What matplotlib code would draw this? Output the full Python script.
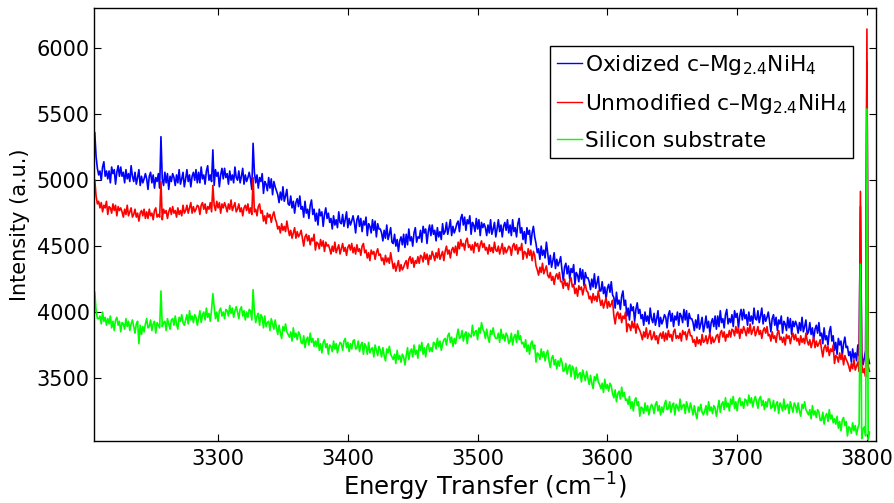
import numpy as np
import matplotlib
matplotlib.use("Agg")
import matplotlib.pyplot as plt

# Raman shift axis: 1 cm^-1 steps starting at 3205 cm^-1
x_start = 3205
x_step = 1

oxidized = [
    5360, 5180, 5090, 5040, 5070, 5000, 5100, 5140, 5030, 5070,
    5010, 5070, 4980, 5100, 5050, 5080, 4970, 5060, 5110, 5030,
    5100, 5030, 5060, 4980, 5080, 5010, 5050, 4990, 5110, 5030,
    4990, 5060, 4970, 5020, 5080, 4960, 5030, 4980, 5010, 5050,
    5010, 4930, 5030, 5060, 4980, 5040, 4940, 5020, 4990, 5050,
    4940, 5330, 5010, 4960, 5060, 4980, 5050, 4930, 5030, 4990,
    5050, 5020, 4960, 5040, 4980, 5080, 4970, 5010, 5060, 4950,
    5010, 5080, 4990, 5040, 4950, 5030, 5060, 5000, 5080, 4980,
    5060, 4980, 5100, 5010, 5040, 4970, 5070, 5110, 5000, 5040,
    4990, 5230, 4960, 5080, 5030, 5060, 4950, 5040, 5090, 5010,
    5090, 5020, 5050, 4970, 5070, 5000, 5040, 4980, 5100, 5020,
    5000, 5070, 4980, 5030, 5090, 4970, 5040, 4990, 5020, 5060,
    5010, 4930, 5280, 5060, 4980, 5040, 4940, 5020, 4990, 5050,
    4900, 4990, 4970, 4920, 5020, 4940, 5010, 4890, 4990, 4950,
    4920, 4890, 4830, 4910, 4850, 4950, 4840, 4880, 4930, 4820,
    4810, 4880, 4790, 4840, 4750, 4830, 4860, 4800, 4880, 4780,
    4800, 4720, 4840, 4750, 4780, 4710, 4810, 4850, 4740, 4780,
    4690, 4750, 4660, 4780, 4730, 4760, 4650, 4740, 4790, 4710,
    4750, 4680, 4710, 4630, 4730, 4660, 4700, 4640, 4760, 4680,
    4670, 4740, 4650, 4700, 4760, 4640, 4710, 4660, 4690, 4730,
    4680, 4600, 4700, 4730, 4650, 4710, 4610, 4690, 4660, 4720,
    4580, 4670, 4650, 4600, 4700, 4620, 4690, 4570, 4670, 4630,
    4630, 4600, 4540, 4620, 4560, 4660, 4550, 4590, 4640, 4530,
    4520, 4590, 4500, 4550, 4460, 4540, 4570, 4510, 4590, 4490,
    4590, 4510, 4630, 4540, 4570, 4500, 4600, 4640, 4530, 4570,
    4560, 4620, 4530, 4650, 4600, 4630, 4520, 4610, 4660, 4580,
    4660, 4590, 4620, 4540, 4640, 4570, 4610, 4550, 4670, 4590,
    4610, 4680, 4590, 4640, 4700, 4580, 4650, 4600, 4630, 4670,
    4690, 4610, 4710, 4740, 4660, 4720, 4620, 4700, 4670, 4730,
    4590, 4680, 4660, 4610, 4710, 4630, 4700, 4580, 4680, 4640,
    4670, 4640, 4580, 4660, 4600, 4700, 4590, 4630, 4680, 4570,
    4630, 4700, 4610, 4660, 4570, 4650, 4680, 4620, 4700, 4600,
    4660, 4580, 4700, 4610, 4640, 4570, 4670, 4710, 4600, 4640,
    4550, 4610, 4520, 4640, 4590, 4620, 4510, 4600, 4650, 4570,
    4520, 4450, 4480, 4400, 4500, 4430, 4470, 4410, 4530, 4450,
    4360, 4430, 4340, 4390, 4450, 4330, 4400, 4350, 4380, 4420,
    4320, 4240, 4340, 4370, 4290, 4350, 4250, 4330, 4300, 4360,
    4210, 4300, 4280, 4230, 4330, 4250, 4320, 4200, 4300, 4260,
    4260, 4230, 4170, 4250, 4190, 4290, 4180, 4220, 4270, 4160,
    4160, 4230, 4140, 4190, 4100, 4180, 4210, 4150, 4230, 4130,
    4110, 4030, 4150, 4060, 4090, 4020, 4120, 4160, 4050, 4090,
    3970, 4030, 3940, 4060, 4010, 4040, 3930, 4020, 4070, 3990,
    4020, 3950, 3980, 3900, 4000, 3930, 3970, 3910, 4030, 3950,
    3920, 3990, 3900, 3950, 4010, 3890, 3960, 3910, 3940, 3980,
    3960, 3880, 3980, 4010, 3930, 3990, 3890, 3970, 3940, 4000,
    3900, 3990, 3970, 3920, 4020, 3940, 4010, 3890, 3990, 3950,
    3950, 3920, 3860, 3940, 3880, 3980, 3870, 3910, 3960, 3850,
    3900, 3970, 3880, 3930, 3840, 3920, 3950, 3890, 3970, 3870,
    3970, 3890, 4010, 3920, 3950, 3880, 3980, 4020, 3910, 3950,
    3920, 3980, 3890, 4010, 3960, 3990, 3880, 3970, 4020, 3940,
    4020, 3950, 3980, 3900, 4000, 3930, 3970, 3910, 4030, 3950,
    3940, 4010, 3920, 3970, 4030, 3910, 3980, 3930, 3960, 4000,
    3930, 3850, 3950, 3980, 3900, 3960, 3860, 3940, 3910, 3970,
    3840, 3930, 3910, 3860, 3960, 3880, 3950, 3830, 3930, 3890,
    3930, 3900, 3840, 3920, 3860, 3960, 3850, 3890, 3940, 3830,
    3850, 3920, 3830, 3880, 3790, 3870, 3900, 3840, 3920, 3820,
    3840, 3760, 3880, 3790, 3820, 3750, 3850, 3890, 3780, 3820,
    3710, 3770, 3680, 3800, 3750, 3780, 3670, 3760, 3810, 3730,
    3740, 3670, 3700, 3620, 3720, 3650, 3690, 3630, 3750, 3670,
    4800, 3690, 3600, 3650, 3710, 5900, 3660, 3610,
]

unmodified = [
    5000, 4880, 4820, 4840, 4790, 4830, 4760, 4810, 4790, 4840,
    4740, 4800, 4790, 4750, 4820, 4770, 4810, 4730, 4800, 4770,
    4790, 4760, 4720, 4780, 4740, 4810, 4730, 4760, 4790, 4720,
    4740, 4780, 4720, 4750, 4690, 4750, 4770, 4730, 4780, 4710,
    4760, 4710, 4780, 4730, 4750, 4700, 4770, 4790, 4720, 4740,
    4720, 4990, 4700, 4780, 4750, 4770, 4710, 4760, 4790, 4740,
    4800, 4750, 4770, 4720, 4790, 4740, 4770, 4730, 4810, 4750,
    4770, 4810, 4750, 4790, 4830, 4750, 4800, 4760, 4780, 4810,
    4800, 4740, 4810, 4830, 4780, 4820, 4750, 4800, 4780, 4830,
    4760, 4960, 4810, 4770, 4840, 4790, 4830, 4750, 4820, 4790,
    4830, 4800, 4760, 4820, 4780, 4850, 4770, 4800, 4830, 4760,
    4780, 4820, 4760, 4790, 4730, 4790, 4810, 4770, 4820, 4750,
    4790, 4740, 5020, 4760, 4780, 4730, 4800, 4820, 4750, 4770,
    4690, 4730, 4670, 4750, 4720, 4740, 4680, 4730, 4760, 4710,
    4680, 4630, 4650, 4600, 4670, 4620, 4650, 4610, 4690, 4630,
    4580, 4620, 4560, 4600, 4640, 4560, 4610, 4570, 4590, 4620,
    4560, 4500, 4570, 4590, 4540, 4580, 4510, 4560, 4540, 4590,
    4470, 4530, 4520, 4480, 4550, 4500, 4540, 4460, 4530, 4500,
    4510, 4480, 4440, 4500, 4460, 4530, 4450, 4480, 4510, 4440,
    4480, 4520, 4460, 4490, 4430, 4490, 4510, 4470, 4520, 4450,
    4490, 4440, 4510, 4460, 4480, 4430, 4500, 4520, 4450, 4470,
    4410, 4450, 4390, 4470, 4440, 4460, 4400, 4450, 4480, 4430,
    4440, 4390, 4410, 4360, 4430, 4380, 4410, 4370, 4450, 4390,
    4330, 4370, 4310, 4350, 4390, 4310, 4360, 4320, 4340, 4370,
    4390, 4330, 4400, 4420, 4370, 4410, 4340, 4390, 4370, 4420,
    4370, 4430, 4420, 4380, 4450, 4400, 4440, 4360, 4430, 4400,
    4460, 4430, 4390, 4450, 4410, 4480, 4400, 4430, 4460, 4390,
    4460, 4500, 4440, 4470, 4410, 4470, 4490, 4450, 4500, 4430,
    4530, 4480, 4550, 4500, 4520, 4470, 4540, 4560, 4490, 4510,
    4470, 4510, 4450, 4530, 4500, 4520, 4460, 4510, 4540, 4490,
    4520, 4470, 4490, 4440, 4510, 4460, 4490, 4450, 4530, 4470,
    4460, 4500, 4440, 4480, 4520, 4440, 4490, 4450, 4470, 4500,
    4490, 4430, 4500, 4520, 4470, 4510, 4440, 4490, 4470, 4520,
    4400, 4460, 4450, 4410, 4480, 4430, 4470, 4390, 4460, 4430,
    4350, 4320, 4280, 4340, 4300, 4370, 4290, 4320, 4350, 4280,
    4260, 4300, 4240, 4270, 4210, 4270, 4290, 4250, 4300, 4230,
    4230, 4180, 4250, 4200, 4220, 4170, 4240, 4260, 4190, 4210,
    4140, 4180, 4120, 4200, 4170, 4190, 4130, 4180, 4210, 4160,
    4150, 4100, 4120, 4070, 4140, 4090, 4120, 4080, 4160, 4100,
    4050, 4090, 4030, 4070, 4110, 4030, 4080, 4040, 4060, 4090,
    3970, 3910, 3980, 4000, 3950, 3990, 3920, 3970, 3950, 4000,
    3850, 3910, 3900, 3860, 3930, 3880, 3920, 3840, 3910, 3880,
    3860, 3830, 3790, 3850, 3810, 3880, 3800, 3830, 3860, 3790,
    3810, 3850, 3790, 3820, 3760, 3820, 3840, 3800, 3850, 3780,
    3840, 3790, 3860, 3810, 3830, 3780, 3850, 3870, 3800, 3820,
    3800, 3840, 3780, 3860, 3830, 3850, 3790, 3840, 3870, 3820,
    3820, 3770, 3790, 3740, 3810, 3760, 3790, 3750, 3830, 3770,
    3780, 3820, 3760, 3800, 3840, 3760, 3810, 3770, 3790, 3820,
    3830, 3770, 3840, 3860, 3810, 3850, 3780, 3830, 3810, 3860,
    3810, 3870, 3860, 3820, 3890, 3840, 3880, 3800, 3870, 3840,
    3890, 3860, 3820, 3880, 3840, 3910, 3830, 3860, 3890, 3820,
    3850, 3890, 3830, 3860, 3800, 3860, 3880, 3840, 3890, 3820,
    3830, 3780, 3850, 3800, 3820, 3770, 3840, 3860, 3790, 3810,
    3770, 3810, 3750, 3830, 3800, 3820, 3760, 3810, 3840, 3790,
    3830, 3780, 3800, 3750, 3820, 3770, 3800, 3760, 3840, 3780,
    3750, 3790, 3730, 3770, 3810, 3730, 3780, 3740, 3760, 3790,
    3720, 3660, 3730, 3750, 3700, 3740, 3670, 3720, 3700, 3750,
    3610, 3670, 3660, 3620, 3690, 3640, 3680, 3600, 3670, 3640,
    3620, 3590, 3550, 3610, 3570, 3640, 3560, 3590, 3620, 3550,
    4915, 3600, 3540, 3570, 3510, 6146, 3590, 3550,
]

silicon = [
    4150, 4010, 3950, 3950, 3970, 3910, 4000, 3930, 3960, 3900,
    3950, 3910, 3970, 3880, 3930, 3860, 3940, 3960, 3900, 3930,
    3850, 3920, 3910, 3870, 3950, 3890, 3930, 3860, 3910, 3940,
    3890, 3840, 3910, 3930, 3760, 3900, 3830, 3890, 3850, 3910,
    3950, 3880, 3890, 3940, 3860, 3910, 3930, 3840, 3920, 3900,
    3880, 4160, 3890, 3920, 3930, 3860, 3950, 3910, 3870, 3940,
    3950, 3900, 3970, 3910, 3870, 3960, 3930, 3980, 3920, 3900,
    3940, 3980, 3910, 4010, 3940, 3970, 3920, 3980, 3960, 3900,
    3950, 4010, 3920, 3980, 4000, 3940, 4030, 3960, 3990, 3930,
    4020, 4140, 4040, 3950, 4000, 3930, 4010, 4030, 3970, 4000,
    3950, 4020, 4010, 3970, 4050, 3990, 4030, 3960, 4010, 4040,
    4000, 3950, 4020, 4040, 3970, 4010, 3940, 4000, 3960, 4020,
    4010, 3940, 4170, 4000, 3920, 3970, 3990, 3900, 3980, 3960,
    3880, 3970, 3890, 3920, 3930, 3860, 3950, 3910, 3870, 3940,
    3880, 3830, 3900, 3840, 3800, 3890, 3860, 3910, 3850, 3830,
    3810, 3850, 3780, 3880, 3810, 3840, 3790, 3850, 3830, 3770,
    3760, 3820, 3730, 3790, 3810, 3750, 3840, 3770, 3800, 3740,
    3780, 3740, 3800, 3710, 3760, 3690, 3770, 3790, 3730, 3760,
    3680, 3750, 3740, 3700, 3780, 3720, 3760, 3690, 3740, 3770,
    3760, 3710, 3780, 3800, 3730, 3770, 3700, 3760, 3720, 3780,
    3790, 3720, 3730, 3780, 3700, 3750, 3770, 3680, 3760, 3740,
    3680, 3770, 3690, 3720, 3730, 3660, 3750, 3710, 3670, 3740,
    3710, 3660, 3730, 3670, 3630, 3720, 3690, 3740, 3680, 3660,
    3640, 3680, 3610, 3710, 3640, 3670, 3620, 3680, 3660, 3600,
    3670, 3730, 3640, 3700, 3720, 3660, 3750, 3680, 3710, 3650,
    3750, 3710, 3770, 3680, 3730, 3660, 3740, 3760, 3700, 3730,
    3700, 3770, 3760, 3720, 3800, 3740, 3780, 3710, 3760, 3790,
    3800, 3750, 3820, 3840, 3770, 3810, 3740, 3800, 3760, 3820,
    3870, 3800, 3810, 3860, 3780, 3830, 3850, 3760, 3840, 3820,
    3810, 3900, 3820, 3850, 3860, 3790, 3880, 3840, 3920, 3870,
    3850, 3800, 3870, 3810, 3770, 3860, 3830, 3880, 3820, 3800,
    3800, 3840, 3770, 3870, 3800, 3830, 3780, 3840, 3820, 3760,
    3780, 3840, 3750, 3810, 3830, 3770, 3860, 3790, 3820, 3760,
    3770, 3730, 3790, 3700, 3750, 3680, 3760, 3780, 3720, 3750,
    3620, 3690, 3680, 3640, 3720, 3660, 3700, 3630, 3680, 3710,
    3630, 3580, 3650, 3670, 3600, 3640, 3570, 3630, 3590, 3650,
    3620, 3550, 3560, 3610, 3530, 3580, 3600, 3510, 3590, 3570,
    3490, 3580, 3500, 3530, 3540, 3470, 3560, 3520, 3480, 3550,
    3500, 3450, 3520, 3460, 3420, 3510, 3480, 3530, 3470, 3450,
    3420, 3460, 3390, 3490, 3420, 3450, 3400, 3460, 3440, 3380,
    3350, 3410, 3320, 3380, 3400, 3340, 3430, 3360, 3390, 3330,
    3340, 3300, 3360, 3270, 3320, 3250, 3330, 3350, 3290, 3320,
    3210, 3280, 3270, 3230, 3310, 3250, 3290, 3220, 3270, 3300,
    3280, 3230, 3300, 3320, 3250, 3290, 3220, 3280, 3240, 3300,
    3330, 3260, 3270, 3320, 3240, 3290, 3310, 3220, 3300, 3280,
    3250, 3340, 3260, 3290, 3300, 3230, 3320, 3280, 3240, 3310,
    3270, 3220, 3290, 3230, 3190, 3280, 3250, 3300, 3240, 3220,
    3250, 3290, 3220, 3320, 3250, 3280, 3230, 3290, 3270, 3210,
    3270, 3330, 3240, 3300, 3320, 3260, 3350, 3280, 3310, 3250,
    3340, 3300, 3360, 3270, 3320, 3250, 3330, 3350, 3290, 3320,
    3270, 3340, 3330, 3290, 3370, 3310, 3350, 3280, 3330, 3360,
    3320, 3270, 3340, 3360, 3290, 3330, 3260, 3320, 3280, 3340,
    3340, 3270, 3280, 3330, 3250, 3300, 3320, 3230, 3310, 3290,
    3250, 3340, 3260, 3290, 3300, 3230, 3320, 3280, 3240, 3310,
    3290, 3240, 3310, 3250, 3210, 3300, 3270, 3320, 3260, 3240,
    3220, 3260, 3190, 3290, 3220, 3250, 3200, 3260, 3240, 3180,
    3180, 3240, 3150, 3210, 3230, 3170, 3260, 3190, 3220, 3160,
    3190, 3150, 3210, 3120, 3170, 3100, 3180, 3200, 3140, 3170,
    3060, 3130, 3120, 3080, 3160, 3100, 3140, 3070, 3120, 3150,
    4363, 3040, 3110, 3130, 3060, 5540, 3030, 3090,
]

labels = [r"Oxidized c–Mg$\mathregular{_{2.4}}$NiH$\mathregular{_4}$",
          r"Unmodified c–Mg$\mathregular{_{2.4}}$NiH$\mathregular{_4}$",
          "Silicon substrate"]
colors = ["#0000ff", "#ff0000", "#00ff00"]
x_ticks = [3300, 3400, 3500, 3600, 3700, 3800]
y_ticks = [3500, 4000, 4500, 5000, 5500, 6000]

plt.rcParams["font.family"] = ["DejaVu Sans"]
plt.rcParams["mathtext.fontset"] = "dejavusans"

fig = plt.figure(figsize=(8.95, 5.03), dpi=100)
ax = fig.add_axes([94/895, 1-441/503, (876-94)/895, (441-8)/503])

x = np.arange(x_start, x_start + x_step*len(oxidized), x_step)
for series, lab, col in zip([oxidized, unmodified, silicon], labels, colors):
    ax.plot(x, series, color=col, lw=1.2, label=lab)

ax.set_xlim(3204.4, 3807)
ax.set_ylim(3022, 6306)
ax.set_xticks(x_ticks)
ax.set_yticks(y_ticks)
ax.tick_params(direction="in", top=True, right=True, length=5, width=0.8,
               labelsize=15)
ax.tick_params(axis="x", pad=6)
ax.tick_params(axis="y", pad=3)
for s in ax.spines.values():
    s.set_linewidth(1.0)

ax.set_xlabel(r"Energy Transfer (cm$\mathregular{^{-1}}$)", fontsize=17.5, labelpad=1)
ax.set_ylabel("Intensity (a.u.)", fontsize=15, labelpad=5)

leg = ax.legend(loc="upper right", bbox_to_anchor=(853/895, 1-46/503),
                bbox_transform=fig.transFigure, fontsize=15.7, frameon=True,
                fancybox=False, framealpha=1, edgecolor="black",
                handlelength=1.15, handletextpad=0.13, borderpad=0.3,
                labelspacing=0.7, borderaxespad=0)
leg.get_frame().set_linewidth(1.0)
for h in leg.get_lines():
    h.set_linewidth(1.0)

fig.savefig("out.png", dpi=100)
